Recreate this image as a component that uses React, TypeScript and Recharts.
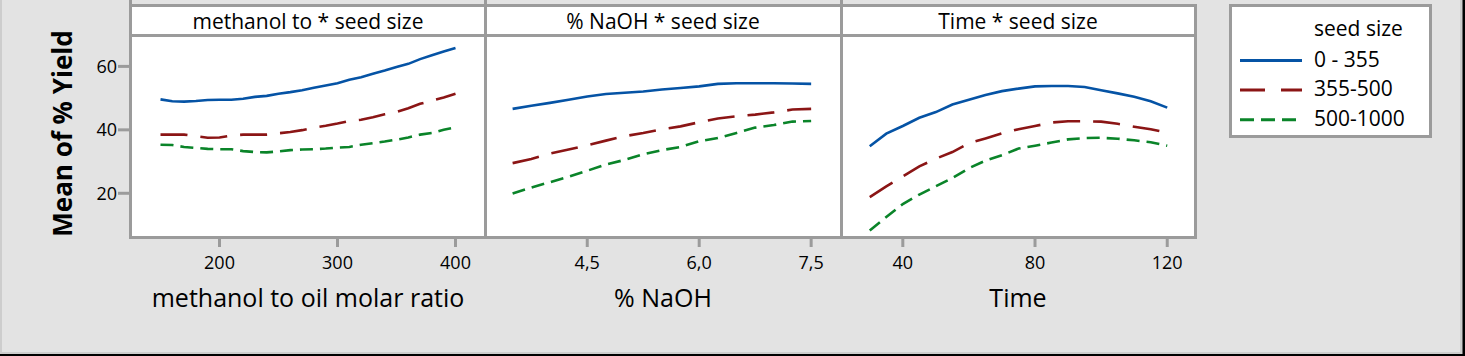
import React from 'react';
import { LineChart, Line, XAxis, YAxis } from 'recharts';

const FONT = '"Open Sans", "Noto Sans", sans-serif';
const FRAME = '#9b9b9b';

// seed size groups
const seedSizes = ['0 - 355', '355-500', '500-1000'];
const seedColors = ['#0553a5', '#8b1515', '#0a8429'];
const seedDashes = [undefined, '27 13', '13 7'];
const legendDashes = [undefined, '25 16', '14 7'];

const yTicks = [20, 40, 60];

// methanol to oil molar ratio
const methanolRatio = [150, 160, 170, 180, 190, 200, 210, 220, 230, 240, 250, 260, 270, 280, 290, 300, 310, 320, 330, 340, 350, 360, 370, 380, 390, 400];
const methanolSmall = [49.6, 49.0, 48.9, 49.1, 49.4, 49.5, 49.5, 49.8, 50.4, 50.7, 51.4, 51.9, 52.5, 53.3, 54.0, 54.7, 55.8, 56.6, 57.7, 58.7, 59.8, 60.8, 62.3, 63.5, 64.7, 65.8];
const methanolMedium = [38.5, 38.5, 38.5, 38.0, 37.5, 37.6, 38.2, 38.5, 38.5, 38.5, 38.9, 39.3, 39.9, 40.7, 41.3, 42.0, 42.8, 43.2, 44.0, 44.9, 45.6, 46.8, 48.2, 49.2, 50.2, 51.4];
const methanolLarge = [35.3, 35.2, 34.6, 34.3, 34.0, 33.9, 33.9, 33.3, 33.0, 32.9, 33.2, 33.6, 33.8, 33.9, 34.1, 34.4, 34.6, 35.3, 35.8, 36.3, 36.9, 37.6, 38.5, 39.0, 40.0, 40.8];
const methanolTicks = [200, 300, 400];

// % NaOH
const naohPct = [3.5, 3.75, 4.0, 4.25, 4.5, 4.75, 5.0, 5.25, 5.5, 5.75, 6.0, 6.25, 6.5, 6.75, 7.0, 7.25, 7.5];
const naohSmall = [46.6, 47.6, 48.5, 49.5, 50.5, 51.3, 51.7, 52.1, 52.7, 53.2, 53.7, 54.5, 54.7, 54.7, 54.7, 54.6, 54.5];
const naohMedium = [29.5, 30.8, 32.5, 33.8, 35.1, 36.6, 38.0, 39.0, 40.2, 41.1, 42.4, 43.6, 44.3, 44.8, 45.5, 46.4, 46.6];
const naohLarge = [19.9, 21.8, 23.5, 25.2, 27.1, 29.1, 30.5, 32.3, 33.6, 34.6, 36.4, 37.4, 39.0, 40.7, 41.5, 42.6, 42.8];
const naohTicks = [4.5, 6.0, 7.5];

// Time
const timeMin = [30, 35, 40, 45, 50, 55, 60, 65, 70, 75, 80, 85, 90, 95, 100, 105, 110, 115, 120];
const timeSmall = [34.8, 38.8, 41.2, 43.8, 45.6, 48.0, 49.5, 51.0, 52.2, 53.0, 53.7, 53.8, 53.8, 53.5, 52.5, 51.5, 50.4, 49.0, 47.0];
const timeMedium = [18.8, 22.2, 25.3, 28.5, 30.9, 33.0, 35.8, 37.3, 38.9, 40.2, 41.2, 42.3, 42.7, 42.7, 42.6, 41.9, 41.0, 40.2, 39.1];
const timeLarge = [8.3, 12.5, 16.6, 19.6, 22.2, 24.8, 27.9, 30.3, 32.0, 34.1, 35.0, 36.0, 37.0, 37.4, 37.5, 37.2, 36.7, 36.1, 35.0];
const timeTicks = [40, 80, 120];

const build = (xs: number[], a: number[], b: number[], c: number[]) =>
  xs.map((x, i) => ({ x, s0: a[i], s1: b[i], s2: c[i] }));

const panels = [
  {
    title: 'methanol to * seed size',
    xLabel: 'methanol to oil molar ratio',
    data: build(methanolRatio, methanolSmall, methanolMedium, methanolLarge),
    domain: [125, 425],
    ticks: methanolTicks,
    fmt: (v: number) => String(v),
    left: 131,
    width: 354,
  },
  {
    title: '% NaOH * seed size',
    xLabel: '% NaOH',
    data: build(naohPct, naohSmall, naohMedium, naohLarge),
    domain: [3.13, 7.9],
    ticks: naohTicks,
    fmt: (v: number) => v.toFixed(1).replace('.', ','),
    left: 485,
    width: 356,
  },
  {
    title: 'Time * seed size',
    xLabel: 'Time',
    data: build(timeMin, timeSmall, timeMedium, timeLarge),
    domain: [21.3, 128.4],
    ticks: timeTicks,
    fmt: (v: number) => String(v),
    left: 841,
    width: 354,
  },
];

const Y_DOMAIN = [5.9, 69.9];
const PLOT_TOP = 35;
const PLOT_BOTTOM = 238;
const H = 356;

function YTitle(props: any) {
  const vb = props.viewBox || { x: 0, y: 0, height: 0 };
  const cx = vb.x + 72;
  const cy = vb.y + vb.height / 2 - 3;
  return (
    <text x={cx} y={cy} transform={`rotate(-90 ${cx} ${cy})`} textAnchor="middle"
      fontFamily={FONT} fontSize={26} fontWeight="bold" fill="#000">
      Mean of % Yield
    </text>
  );
}

function Panel({ p, showY }: { p: (typeof panels)[number]; showY: boolean }) {
  const yw = showY ? 131 : 0;
  return (
    <div style={{ position: 'absolute', left: p.left - yw, top: 0 }}>
      <LineChart width={p.width + yw} height={H} data={p.data}
        margin={{ top: PLOT_TOP, right: 0, bottom: 0, left: 0 }}>
        <XAxis type="number" dataKey="x" domain={p.domain} ticks={p.ticks} interval={0}
          allowDataOverflow tickFormatter={p.fmt} height={H - PLOT_BOTTOM}
          axisLine={false} tickLine={{ stroke: FRAME, strokeWidth: 3 }} tickSize={9} tickMargin={9}
          tick={{ fill: '#000', fontSize: 18, fontFamily: FONT }}
          label={{ value: p.xLabel, position: 'insideBottom', offset: 49, fill: '#000', fontSize: 25, fontFamily: FONT }} />
        <YAxis type="number" domain={Y_DOMAIN} ticks={yTicks} interval={0} allowDataOverflow
          hide={!showY} width={131} axisLine={false}
          tickLine={{ stroke: FRAME, strokeWidth: 3 }} tickSize={13} tickMargin={1}
          tick={{ fill: '#000', fontSize: 18, fontFamily: FONT }}
          label={showY ? { content: YTitle } : undefined} />
        {seedSizes.map((name, i) => (
          <Line key={name} name={name} dataKey={`s${i}`} type="linear"
            stroke={seedColors[i]} strokeWidth={2.6} strokeDasharray={seedDashes[i]}
            dot={false} activeDot={false} isAnimationActive={false} />
        ))}
      </LineChart>
    </div>
  );
}

function Frame() {
  const centers = [308, 663, 1018];
  return (
    <svg width={1465} height={H} style={{ position: 'absolute', left: 0, top: 0 }}>
      <rect x={0} y={0} width={1465} height={H} fill="#e3e3e3" />
      <rect x={0} y={0} width={2} height={H} fill="#cdcdcd" />
      <rect x={1460} y={0} width={3} height={H} fill="#cdcdcd" />
      <rect x={0} y={352} width={1465} height={2} fill="#cdcdcd" />
      <rect x={1462.5} y={0} width={2.5} height={H} fill="#000" />
      <rect x={0} y={354} width={1465} height={2} fill="#000" />
      <rect x={130.5} y={5.5} width={1065} height={232} fill="#fff" stroke={FRAME} strokeWidth={3} />
      <line x1={130.5} x2={1195.5} y1={35.5} y2={35.5} stroke={FRAME} strokeWidth={3} />
      {[130.5, 485.5, 841.5].map((x) => (
        <line key={x} x1={x} x2={x} y1={0} y2={237.5} stroke={FRAME} strokeWidth={3} />
      ))}
      {panels.map((p, i) => (
        <text key={p.title} x={centers[i]} y={29} textAnchor="middle" fontFamily={FONT} fontSize={21} fill="#000">
          {p.title}
        </text>
      ))}
      <rect x={1230.5} y={5.5} width={200} height={131} fill="#fff" stroke={FRAME} strokeWidth={3} />
      <text x={1314} y={36} fontFamily={FONT} fontSize={21} fill="#000">seed size</text>
      {seedSizes.map((name, i) => {
        const base = 66.5 + i * 29.6;
        return (
          <g key={name}>
            <line x1={1240} x2={1302} y1={base - 6} y2={base - 6} stroke={seedColors[i]} strokeWidth={3}
              strokeDasharray={legendDashes[i]} />
            <text x={1314} y={base} fontFamily={FONT} fontSize={21} fill="#000">{name}</text>
          </g>
        );
      })}
    </svg>
  );
}

export default function App() {
  return (
    <div style={{ position: 'absolute', left: 0, top: 0, width: 1465, height: H, overflow: 'hidden', fontFamily: FONT }}>
      <Frame />
      {panels.map((p, i) => (
        <Panel key={p.title} p={p} showY={i === 0} />
      ))}
    </div>
  );
}
